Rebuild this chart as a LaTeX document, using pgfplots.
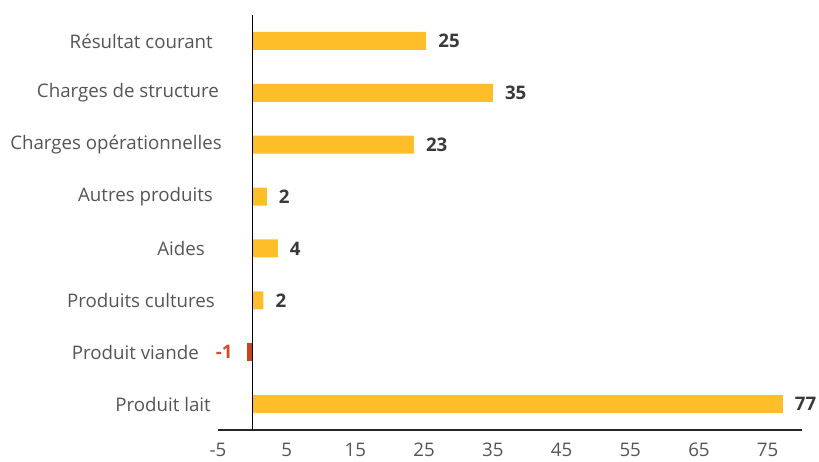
\documentclass[border=0pt]{standalone}
\usepackage{pgfplots}
\pgfplotsset{compat=1.18}
\usepackage{fontspec}
\setmainfont{Open Sans}
\definecolor{baryel}{HTML}{FDBE2A}
\definecolor{barneg}{HTML}{C4461F}
\definecolor{labneg}{HTML}{C8502D}
\definecolor{txtgray}{HTML}{555555}
\definecolor{txtdark}{HTML}{3A3A3A}
\begin{document}
\begin{tikzpicture}
\begin{axis}[
  scale only axis,
  width=584bp, height=415bp,
  xmin=-5, xmax=80,
  ymin=-0.5, ymax=7.5,
  xbar, bar width=18bp, bar shift=0pt,
  axis x line*=bottom, axis y line*=left,
  y axis line style={draw=none},
  x axis line style={line width=1.2bp, color=black!85},
  xtick={-5,5,15,25,35,45,55,65,75},
  ytick={0,1,2,3,4,5,6,7},
  yticklabels={Produit lait\hspace*{11bp},Produit viande\hspace*{23bp},Produits cultures\hspace*{7bp},Aides\hspace*{17bp},Autres produits\hspace*{9bp},Charges opérationnelles\hspace*{0bp},Charges de structure\hspace*{3bp},Résultat courant\hspace*{9bp}},
  major tick length=0pt,
  /pgf/number format/assume math mode=true,
  ticklabel style={font=\fontsize{18.7bp}{22bp}\selectfont, text=txtgray},
  yticklabel style={anchor=east, inner sep=0pt, xshift=4bp},
  xticklabel style={anchor=north, inner sep=0pt, yshift=-13bp},
  clip=false,
]
\addplot[fill=baryel, draw=none,
  point meta=explicit symbolic,
  nodes near coords,
  every node near coord/.style={anchor=west, inner sep=0pt, xshift=12bp, font=\bfseries\fontsize{18.7bp}{22bp}\selectfont, text=txtdark}]
  table[meta=lab] {
x y lab
77.2 0 77
1.6 2 2
3.7 3 4
2.1 4 2
23.5 5 23
35.0 6 35
25.3 7 25
};
\addplot[fill=barneg, draw=none,
  point meta=explicit symbolic,
  nodes near coords,
  every node near coord/.style={anchor=east, inner sep=0pt, xshift=-14bp, font=\bfseries\fontsize{18.7bp}{22bp}\selectfont, text=labneg}]
  table[meta=lab] {
x y lab
-0.8 1 -1
};
\addplot[sharp plot, black, line width=1.2bp, mark=none] coordinates {(0,-0.5) (0,7.5)};
\end{axis}
\path ([xshift=-218bp,yshift=-31bp]current axis.south west) rectangle ([xshift=17bp,yshift=15bp]current axis.north east);
\end{tikzpicture}
\end{document}
